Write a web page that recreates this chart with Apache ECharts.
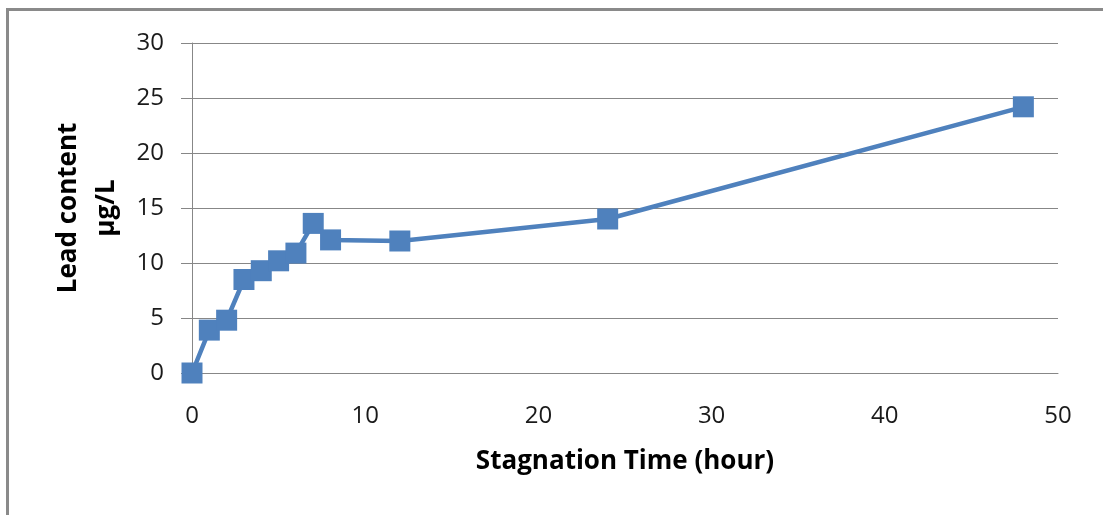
<!DOCTYPE html>
<html>
<head>
<meta charset="utf-8">
<script src="https://cdn.jsdelivr.net/npm/echarts@6/dist/echarts.min.js"></script>
<style>
  html, body { margin: 0; padding: 0; background: #fff; }
  #frame {
    position: absolute; left: 6px; top: 8px; width: 1103px; height: 515px;
    border-left: 3px solid #8a8a8a; border-top: 3px solid #8a8a8a;
  }
  #chart { position: absolute; left: 0; top: 0; width: 1103px; height: 515px; }
</style>
</head>
<body>
<div id="frame"></div>
<div id="chart"></div>
<script>
// stagnation time (hour) and measured lead content (ug/L)
const hours = [0, 1, 2, 3, 4, 5, 6, 7, 8, 12, 24, 48]
const leadContent = [0, 3.9, 4.8, 8.5, 9.3, 10.2, 10.9, 13.6, 12.1, 12.0, 14.0, 24.2]

const xName = 'Stagnation Time (hour)'
const yName = 'Lead content\nµg/L'

const chart = echarts.init(document.getElementById('chart'))
const font = '"Open Sans", Lato, sans-serif'

chart.setOption({
  animation: false,
  grid: {
    left: 192,
    right: 45,
    top: 43,
    bottom: 142
  },
  xAxis: {
    type: 'value',
    min: 0,
    max: 50,
    interval: 10,
    name: xName,
    nameLocation: 'middle',
    nameGap: 76,
    nameTextStyle: { fontFamily: font, fontWeight: 'bold', fontSize: 26, color: '#000' },
    axisLine: { show: true, lineStyle: { color: '#878787', width: 1 } },
    axisTick: { show: false },
    splitLine: { show: false },
    axisLabel: { margin: 31, fontFamily: font, fontSize: 24, color: '#1a1a1a' }
  },
  yAxis: {
    type: 'value',
    min: 0,
    max: 30,
    interval: 5,
    name: yName,
    nameLocation: 'middle',
    nameRotate: 90,
    nameGap: 66,
    nameTextStyle: { fontFamily: font, fontWeight: 'bold', fontSize: 26, color: '#000', lineHeight: 38 },
    axisLine: { show: true, lineStyle: { color: '#878787', width: 1 } },
    axisTick: { show: true, inside: false, length: 11, lineStyle: { color: '#878787' } },
    splitLine: { show: true, lineStyle: { color: '#878787', width: 1 } },
    axisLabel: { margin: 28, fontFamily: font, fontSize: 24, color: '#1a1a1a' }
  },
  series: [
    {
      type: 'line',
      data: hours.map((h, i) => [h, leadContent[i]]),
      symbol: 'rect',
      symbolSize: 21,
      lineStyle: { color: '#4F81BD', width: 4.5 },
      itemStyle: { color: '#4F81BD' }
    }
  ]
})
</script>
</body>
</html>
